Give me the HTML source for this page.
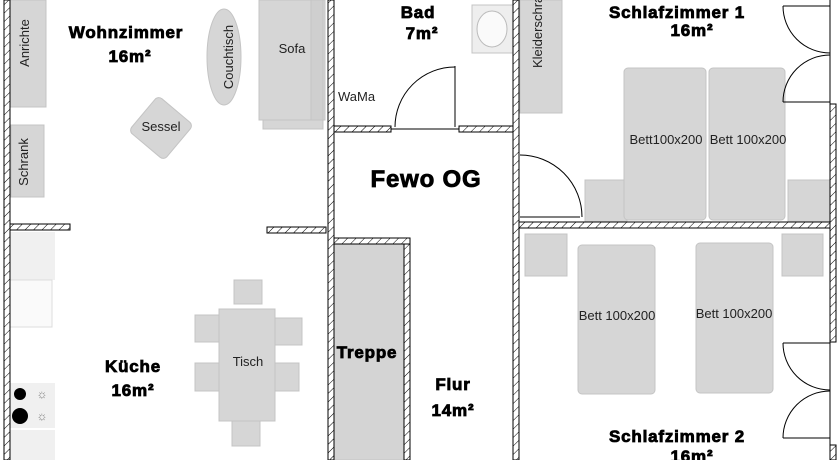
<!DOCTYPE html>
<html><head><meta charset="utf-8"><style>
html,body{margin:0;padding:0;background:#fff;}
svg{display:block;}
text{font-family:"Liberation Sans",Arial,sans-serif;}
.b{font-weight:bold;fill:#000;stroke:#000;stroke-width:0.8;letter-spacing:0.8px;}
.s{font-size:13px;fill:#222;}
</style></head><body>
<svg width="840" height="460" viewBox="0 0 840 460" xmlns="http://www.w3.org/2000/svg">
<defs>
<pattern id="h" width="6" height="6" patternUnits="userSpaceOnUse" patternTransform="rotate(45)">
<rect width="6" height="6" fill="#fff"/><line x1="0" y1="0" x2="0" y2="6" stroke="#000" stroke-width="1"/>
</pattern>
</defs>
<g fill="#d6d6d6" stroke="#c4c4c4" stroke-width="1">
<rect x="10" y="0" width="36" height="107"/>
<rect x="11" y="125" width="33" height="72"/>
<rect x="259" y="0" width="66" height="120"/>
<rect x="263" y="120" width="60" height="9"/>
<rect x="311" y="0" width="12" height="120" fill="#cfcfcf"/>
<ellipse cx="224" cy="57" rx="17" ry="48"/>
<rect x="138" y="105" width="46" height="46" rx="5" transform="rotate(40 161 128)"/>
<rect x="520" y="0" width="42" height="113"/>
<rect x="472" y="5" width="41" height="48" fill="#eee"/>
<ellipse cx="492" cy="29" rx="15" ry="18" fill="#fafafa" stroke="#bbb"/>
<rect x="585" y="180" width="42" height="42"/>
<rect x="788" y="180" width="42" height="42"/>
<rect x="624" y="68" width="82" height="152" rx="4"/>
<rect x="709" y="68" width="76" height="152" rx="4"/>
<rect x="525" y="234" width="42" height="42"/>
<rect x="782" y="234" width="41" height="42"/>
<rect x="578" y="245" width="77" height="149" rx="4"/>
<rect x="696" y="243" width="77" height="150" rx="4"/>
<rect x="334" y="244" width="70" height="216" fill="#d4d4d4"/>
<rect x="234" y="280" width="28" height="24"/>
<rect x="232" y="421" width="28" height="25"/>
<rect x="195" y="315" width="26" height="27"/>
<rect x="275" y="318" width="27" height="27"/>
<rect x="195" y="363" width="104" height="28"/>
<rect x="219" y="309" width="56" height="112"/>
</g>
<g fill="#f0f0f0" stroke="none">
<rect x="10" y="232" width="45" height="48"/>
<rect x="10" y="280" width="42" height="47" fill="#fafafa" stroke="#ddd"/>
<rect x="10" y="383" width="45" height="45"/>
<rect x="10" y="430" width="45" height="30"/>
</g>
<circle cx="20" cy="394" r="6" fill="#000"/>
<circle cx="20" cy="416" r="8" fill="#000"/>
<text x="42" y="398" font-size="12" fill="#777" text-anchor="middle">☼</text>
<text x="42" y="420" font-size="12" fill="#777" text-anchor="middle">☼</text>
<g fill="url(#h)" stroke="#000" stroke-width="1">
<rect x="4" y="0" width="6" height="460"/>
<rect x="10" y="224" width="60" height="6"/>
<rect x="267" y="227" width="59" height="6"/>
<rect x="328" y="0" width="6" height="460"/>
<rect x="334" y="126" width="57" height="6"/>
<rect x="459" y="126" width="54" height="6"/>
<rect x="513" y="0" width="6" height="460"/>
<rect x="519" y="222" width="311" height="6"/>
<rect x="334" y="238" width="76" height="6"/>
<rect x="404" y="244" width="6" height="216"/>
<rect x="830" y="104" width="6" height="238"/>
<rect x="830" y="445" width="6" height="15"/>
</g>
<g fill="none" stroke="#000" stroke-width="1">
<line x1="830" y1="0" x2="830" y2="104"/><line x1="830" y1="342" x2="830" y2="445"/>
<line x1="391" y1="129" x2="459" y2="129"/>
<line x1="455" y1="66" x2="455" y2="127"/>
<path d="M395 127 A60 60 0 0 1 455 67"/>
<line x1="520" y1="217" x2="580" y2="217"/>
<path d="M520 155 A62 62 0 0 1 582 217"/>
<line x1="783" y1="6" x2="830" y2="6"/><path d="M783 6 A47 47 0 0 0 830 53"/>
<line x1="783" y1="102" x2="830" y2="102"/><path d="M783 102 A47 47 0 0 1 830 55"/>
<line x1="783" y1="343" x2="830" y2="343"/><path d="M783 343 A47 47 0 0 0 830 390"/>
<line x1="783" y1="438" x2="830" y2="438"/><path d="M783 438 A47 47 0 0 1 830 391"/>
</g>
<g class="b" text-anchor="middle" font-size="17">
<text x="126" y="38">Wohnzimmer</text>
<text x="130" y="62">16m²</text>
<text x="418" y="18">Bad</text>
<text x="422" y="39">7m²</text>
<text x="677" y="18">Schlafzimmer 1</text>
<text x="692" y="36">16m²</text>
<text x="426" y="187" font-size="24">Fewo OG</text>
<text x="367" y="358" font-size="17">Treppe</text>
<text x="133" y="372">Küche</text>
<text x="133" y="396">16m²</text>
<text x="453" y="390">Flur</text>
<text x="453" y="416">14m²</text>
<text x="677" y="442">Schlafzimmer 2</text>
<text x="692" y="462">16m²</text>
</g>
<g class="s" text-anchor="middle">
<text x="292" y="53">Sofa</text>
<text x="161" y="131">Sessel</text>
<text x="248" y="366">Tisch</text>
<text x="338" y="101" text-anchor="start">WaMa</text>
<text x="666" y="144">Bett100x200</text>
<text x="748" y="144">Bett 100x200</text>
<text x="617" y="320">Bett 100x200</text>
<text x="734" y="318">Bett 100x200</text>
<text transform="translate(233 57) rotate(-90)">Couchtisch</text>
<text transform="translate(29 43) rotate(-90)">Anrichte</text>
<text transform="translate(28 162) rotate(-90)">Schrank</text>
<text transform="translate(542 25) rotate(-90)">Kleiderschrank</text>
</g>
</svg>
</body></html>
